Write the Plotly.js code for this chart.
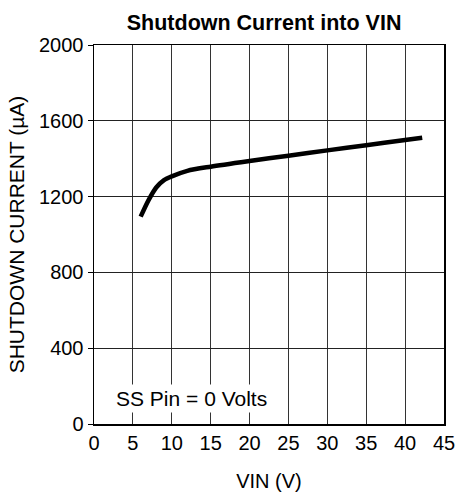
<!DOCTYPE html>
<html>
<head>
<meta charset="utf-8">
<script src="https://cdn.plot.ly/plotly-3.0.1.min.js"></script>
<style>html,body{margin:0;padding:0;background:#fff;}#chart{width:457px;height:492px;}</style>
</head>
<body>
<div id="chart"></div>
<script>
const vin = [6, 7, 8, 9, 10, 12, 15, 20, 25, 30, 35, 40, 42.2];
const current = [1094, 1180, 1248, 1287, 1307, 1336, 1358, 1388, 1416, 1444, 1471, 1499, 1511];
const xTicks = [0, 5, 10, 15, 20, 25, 30, 35, 40, 45];
const yTicks = [0, 400, 800, 1200, 1600, 2000];
const titleText = 'Shutdown Current into VIN';
const xTitle = 'VIN (V)';
const yTitle = 'SHUTDOWN CURRENT (µA)';
const noteText = 'SS Pin = 0 Volts';

const font = 'Liberation Sans, Arial, sans-serif';

Plotly.newPlot('chart', [{
  x: vin, y: current, type: 'scatter', mode: 'lines',
  line: {color: '#000', width: 4.5, shape: 'spline', smoothing: 0.8},
  hoverinfo: 'none'
}], {
  width: 457, height: 492,
  margin: {l: 94, r: 13, t: 45, b: 68},
  paper_bgcolor: '#fff', plot_bgcolor: '#fff',
  showlegend: false,
  title: {text: '<b>' + titleText + '</b>', x: 0.486, xref: 'paper', xanchor: 'center', y: 0.954, yanchor: 'middle',
          font: {family: font, size: 21.5, color: '#000'}},
  xaxis: {
    range: [0, 45], tickvals: xTicks, ticktext: xTicks.map(String),
    showgrid: true, gridcolor: '#333', gridwidth: 1,
    showline: true, linecolor: '#000', linewidth: 1.5, mirror: true,
    ticks: '', zeroline: false,
    tickfont: {family: font, size: 20, color: '#000'},
    title: {text: xTitle, font: {family: font, size: 20, color: '#000'}, standoff: 21}
  },
  yaxis: {
    range: [0, 2000], tickvals: yTicks, ticktext: yTicks.map(String),
    showgrid: true, gridcolor: '#222', gridwidth: 1,
    showline: true, linecolor: '#000', linewidth: 1.5, mirror: true,
    ticks: 'outside', ticklen: 5, tickcolor: '#000', zeroline: false,
    tickfont: {family: font, size: 20, color: '#000'},
    title: {text: yTitle, font: {family: font, size: 21, color: '#000'}, standoff: 8}
  },
  annotations: [{
    text: noteText, x: 12.5, y: 137, xref: 'x', yref: 'y',
    showarrow: false, bgcolor: '#fff', borderpad: 2,
    font: {family: font, size: 21, color: '#000'}
  }]
}, {staticPlot: true, displayModeBar: false});
</script>
</body>
</html>
